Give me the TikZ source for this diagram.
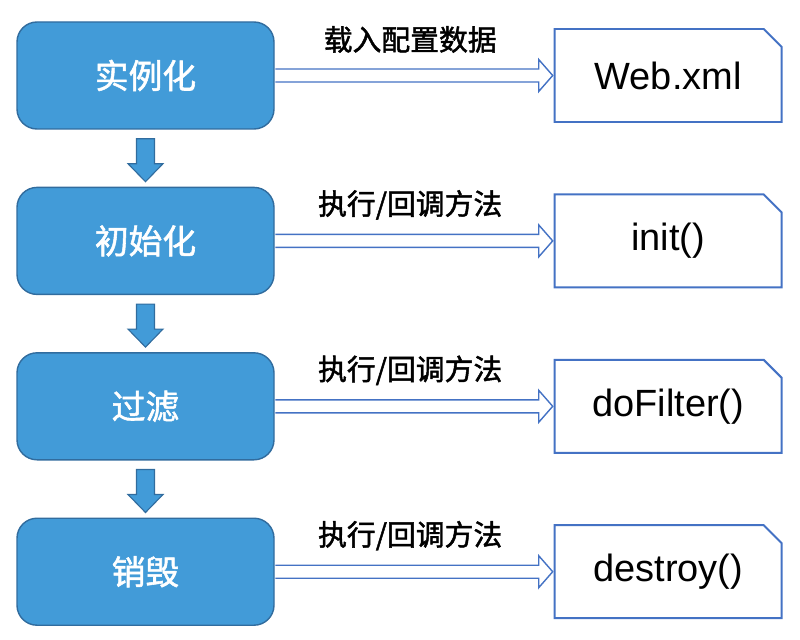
\documentclass[tikz,border=0pt]{standalone}
\usepackage{fontspec}
\setmainfont{Liberation Sans}
\newfontfamily\cjk[UprightFeatures={FakeBold=1.6}]{Noto Sans CJK SC}
\usetikzlibrary{positioning,calc,shapes.misc}
\def \px {0.25mm}
\definecolor{stagefill}{RGB}{66,155,216}
\definecolor{stageline}{RGB}{49,108,158}
\definecolor{fileblue}{RGB}{68,114,196}

\begin{document}
\begin{tikzpicture}[node distance=57*\px and 279*\px,
    stage/.style={draw=stageline,fill=stagefill,line width=1pt,rounded corners=20*\px,
      minimum width=257*\px,minimum height=107*\px,inner sep=0pt,
      text=white,font=\cjk\fontsize{24}{24}\selectfont},
    file/.style={draw=fileblue,fill=white,line width=1.4pt,chamfered rectangle,
      chamfered rectangle corners=north east,chamfered rectangle xsep=9*\px,
      chamfered rectangle ysep=9*\px,minimum width=227*\px,minimum height=93*\px,
      inner sep=0pt,font=\fontsize{27}{27}\selectfont},
    note/.style={font=\cjk\fontsize{20.5}{20.5}\selectfont},
    hollow/.style={draw=fileblue,fill=white,line width=1pt,
      to path={let \p1=(\tikztostart), \p2=(\tikztotarget) in
        (\x1+0.5pt,\y1+6.5*\px) -- (\x2-15*\px,\y1+6.5*\px) -- (\x2-15*\px,\y1+16*\px)
        -- (\x2-1*\px,\y1) -- (\x2-15*\px,\y1-16*\px) -- (\x2-15*\px,\y1-6.5*\px)
        -- (\x1+0.5pt,\y1-6.5*\px)}},
    down/.style={draw=stageline,fill=stagefill,line width=0.8pt,
      to path={let \p1=(\tikztostart), \p2=(\tikztotarget) in
        (\x1-9*\px,\y1-9*\px) -- (\x1-9*\px,\y2+23*\px) -- (\x1-17.5*\px,\y2+23*\px)
        -- (\x1,\y2+5*\px) -- (\x1+17.5*\px,\y2+23*\px) -- (\x1+9*\px,\y2+23*\px)
        -- (\x1+9*\px,\y1-9*\px) -- cycle}}]
    \useasboundingbox (0,0) rectangle (800*\px,-640*\px);
    % stages
    \node[stage] (inst) at (145.5*\px,-75.5*\px) {实例化};
    \node[stage,below=of inst] (init) {初始化};
    \node[stage,below=of init] (filt) {过滤};
    \node[stage,below=of filt] (dest) {销毁};
    % files and methods
    \node[file,right=of inst] (web) {Web.xml};
    \node[file,right=of init] (initm) {init()};
    \node[file,right=of filt] (dofm) {doFilter()};
    \node[file,right=of dest] (destm) {destroy()};
    % arrows
    \path (inst.south) edge[down] (init.north) (init.south) edge[down] (filt.north)
      (filt.south) edge[down] (dest.north);
    \path (inst.east) edge[hollow] (web.west) (init.east) edge[hollow] (initm.west)
      (filt.east) edge[hollow] (dofm.west) (dest.east) edge[hollow] (destm.west);
    \node[note] (l1) at ($(inst.east)!0.5!(web.west)+(-4*\px,36*\px)$) {载入配置数据};
    \node[note] (l2) at ($(init.east)!0.5!(initm.west)+(-4*\px,36*\px)$) {执行/回调方法};
    \node[note] (l3) at ($(filt.east)!0.5!(dofm.west)+(-4*\px,36*\px)$) {执行/回调方法};
    \node[note] (l4) at ($(dest.east)!0.5!(destm.west)+(-4*\px,36*\px)$) {执行/回调方法};
\end{tikzpicture}
\end{document}
